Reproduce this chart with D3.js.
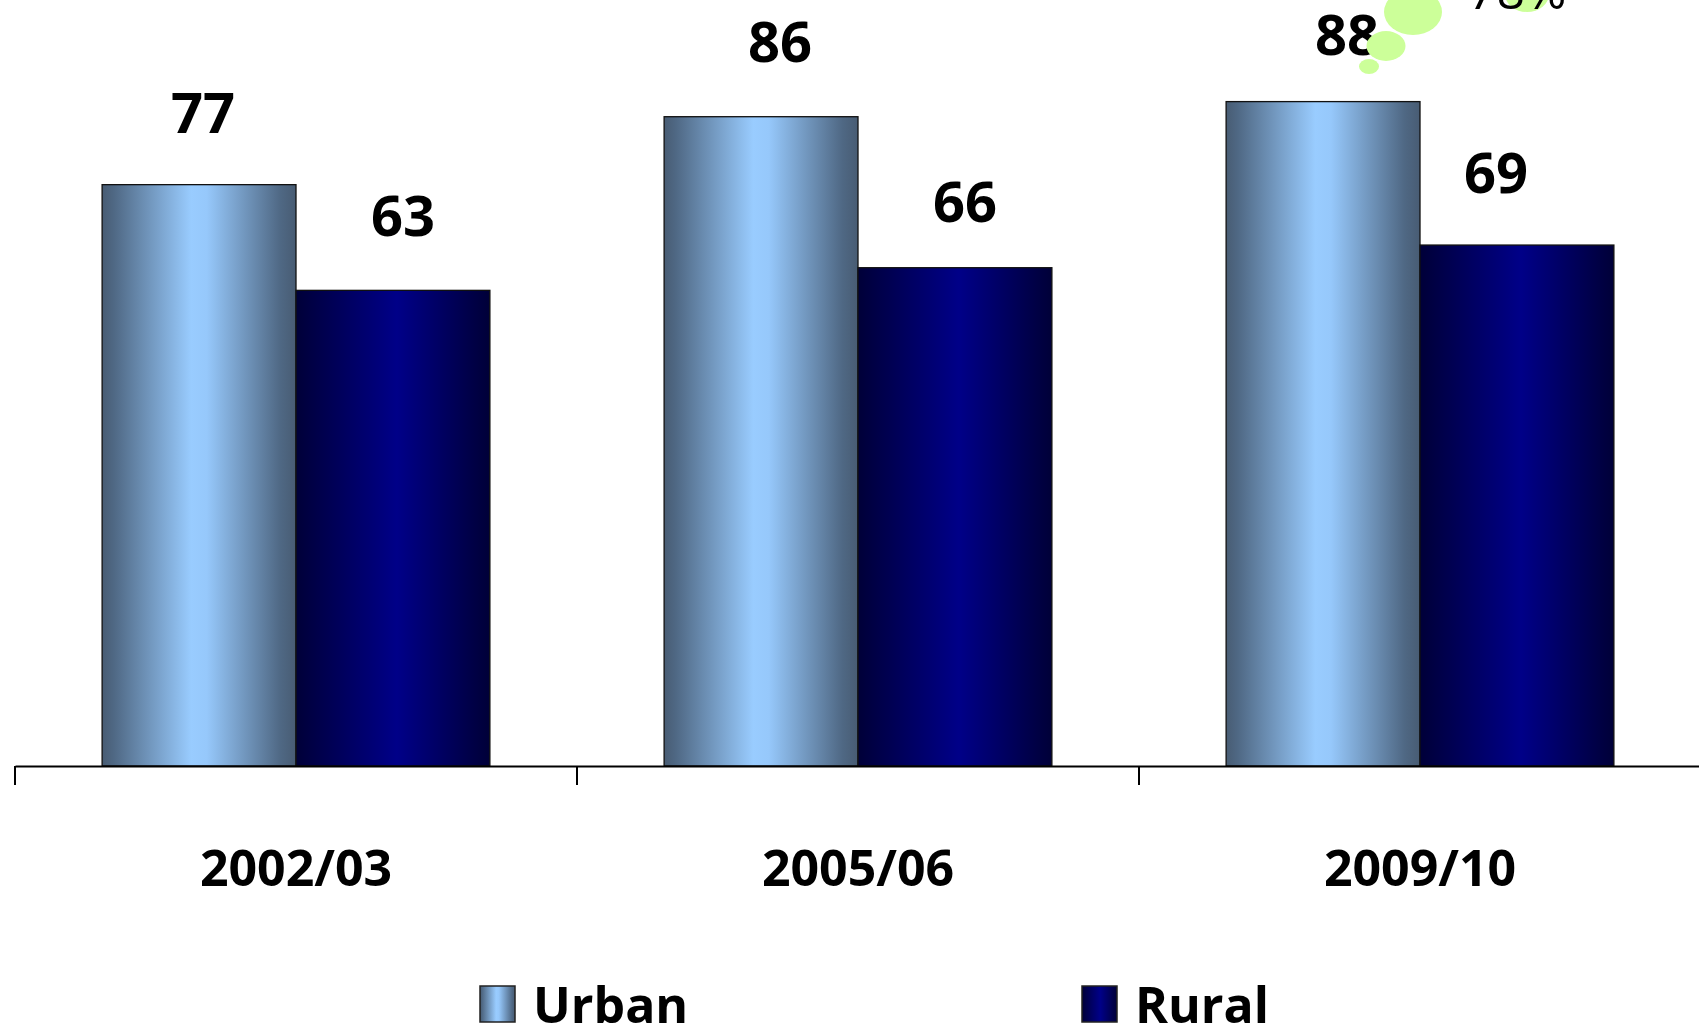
<!DOCTYPE html>
<html>
<head>
<meta charset="utf-8">
<script src="https://cdn.jsdelivr.net/npm/d3@7"></script>
<style>
  body { margin: 0; background: #fff; }
  svg { display: block; font-family: "Comic Sans MS", "Open Sans", sans-serif; }
</style>
</head>
<body>
<div id="chart"></div>
<script>
// data
const years = ["2002/03", "2005/06", "2009/10"];
const series = ["Urban", "Rural"];
const urban = [77, 86, 88];
const rural = [63, 66, 69];
const calloutText = "78%";

// label placement tweaks (hand placed in the original), [dx, gap above bar]
const labelNudge = [[[4, 52], [10, 54]], [[19, 55], [10, 46]], [[24, 47], [-21, 52]]];

const W = 1699, H = 1028;
const axisY = 766;

const svg = d3.select("#chart").append("svg")
  .attr("width", W)
  .attr("height", H);

// gradients
const defs = svg.append("defs");
const gradStops = {
  Urban: [[0, "#485c73"], [0.06, "#4f6884"], [0.46, "#99ccff"], [0.54, "#96c8fb"], [0.92, "#4f6884"], [1, "#485c73"]],
  Rural: [[0, "#000038"], [0.1, "#000048"], [0.52, "#000088"], [0.9, "#000048"], [1, "#000038"]]
};
series.forEach(s => {
  const g = defs.append("linearGradient")
    .attr("id", "grad-" + s)
    .attr("x1", "0%").attr("x2", "100%")
    .attr("y1", "0%").attr("y2", "0%");
  gradStops[s].forEach(([o, c]) => g.append("stop").attr("offset", o).attr("stop-color", c));
});

// scales
const x0 = d3.scaleBand()
  .domain(years)
  .range([15, 15 + 3 * 562]);

const bw = x0.bandwidth();
const x1 = d3.scaleBand()
  .domain(series)
  .range([bw * 0.155, bw * 0.845]);

const y = d3.scaleLinear()
  .domain([0, 100])
  .range([axisY, 11]);

const rows = years.map((yr, i) => ({ year: yr, values: [
  { key: "Urban", value: urban[i], nudge: labelNudge[i][0] },
  { key: "Rural", value: rural[i], nudge: labelNudge[i][1] }
]}));

// bars
const groups = svg.selectAll(".grp")
  .data(rows)
  .join("g")
  .attr("class", "grp")
  .attr("transform", d => `translate(${x0(d.year)},0)`);

groups.selectAll("rect")
  .data(d => d.values)
  .join("rect")
  .attr("x", d => x1(d.key))
  .attr("y", d => y(d.value))
  .attr("width", x1.bandwidth())
  .attr("height", d => y(0) - y(d.value))
  .attr("fill", d => `url(#grad-${d.key})`)
  .attr("stroke", "#111")
  .attr("stroke-width", 1.3);

// value labels
groups.selectAll(".val")
  .data(d => d.values)
  .join("text")
  .attr("class", "val")
  .attr("x", d => x1(d.key) + x1.bandwidth() / 2 + d.nudge[0])
  .attr("y", d => y(d.value) - d.nudge[1])
  .attr("text-anchor", "middle")
  .style("font-size", "56px")
  .style("font-weight", "700")
  .style("fill", "#000")
  .text(d => d.value);

// axis
const xAxis = d3.axisBottom(x0).tickSize(0).tickSizeOuter(0).tickPadding(84);
const ax = svg.append("g")
  .attr("transform", `translate(0,${axisY})`)
  .call(xAxis);
ax.select(".domain").attr("stroke", "#000").attr("stroke-width", 2);
ax.selectAll("text")
  .style("font-size", "50px")
  .style("font-weight", "700")
  .style("font-family", "\"Comic Sans MS\", \"Open Sans\", sans-serif")
  .attr("fill", "#000");

// boundary ticks
ax.selectAll(".btick")
  .data(years)
  .join("line")
  .attr("class", "btick")
  .attr("x1", d => x0(d)).attr("x2", d => x0(d))
  .attr("y1", 0).attr("y2", 19)
  .attr("stroke", "#000")
  .attr("stroke-width", 2);

// thought-bubble callout at top right
const bubble = svg.append("g").attr("fill", "#ccff99");
bubble.append("ellipse").attr("cx", 1527).attr("cy", -6).attr("rx", 22).attr("ry", 18);
svg.append("text")
  .attr("x", 1468)
  .attr("y", 9)
  .style("font-size", "50px")
  .style("fill", "#000")
  .text(calloutText);
const bubble2 = svg.append("g").attr("fill", "#ccff99");
bubble2.append("ellipse").attr("cx", 1413).attr("cy", 12).attr("rx", 29).attr("ry", 23);
bubble2.append("ellipse").attr("cx", 1386).attr("cy", 46).attr("rx", 19.5).attr("ry", 15);
bubble2.append("ellipse").attr("cx", 1369).attr("cy", 66.5).attr("rx", 10).attr("ry", 7.5);

// legend
const legendX = [480, 1082];
const legend = svg.selectAll(".leg")
  .data(series)
  .join("g")
  .attr("class", "leg")
  .attr("transform", (d, i) => `translate(${legendX[i]},986)`);

legend.append("rect")
  .attr("width", 35)
  .attr("height", 36)
  .attr("fill", d => `url(#grad-${d})`)
  .attr("stroke", "#222")
  .attr("stroke-width", 1.5);

legend.append("text")
  .attr("x", 53)
  .attr("y", 37)
  .style("font-size", "50px")
  .style("font-weight", "700")
  .style("fill", "#000")
  .text(d => d);
</script>
</body>
</html>
